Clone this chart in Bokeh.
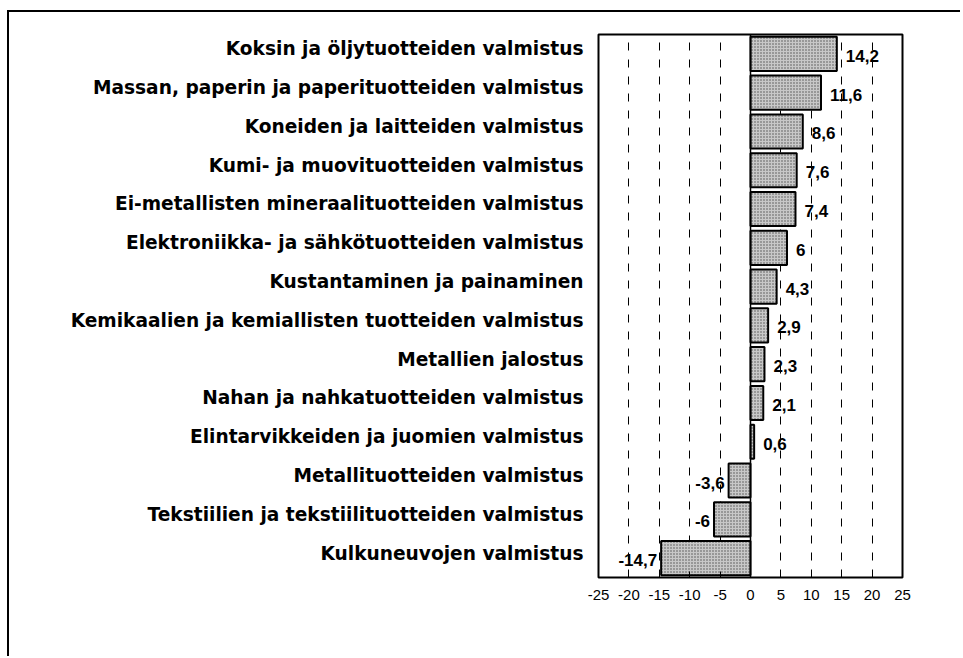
from bokeh.plotting import figure
from bokeh.models import (ColumnDataSource, Range1d, LinearAxis, FixedTicker, Span)
from bokeh.embed import file_html
from bokeh.resources import INLINE

categories = [
    "Koksin ja öljytuotteiden valmistus",
    "Massan, paperin ja paperituotteiden valmistus",
    "Koneiden ja laitteiden valmistus",
    "Kumi- ja muovituotteiden valmistus",
    "Ei-metallisten mineraalituotteiden valmistus",
    "Elektroniikka- ja sähkötuotteiden valmistus",
    "Kustantaminen ja painaminen",
    "Kemikaalien ja kemiallisten tuotteiden valmistus",
    "Metallien jalostus",
    "Nahan ja nahkatuotteiden valmistus",
    "Elintarvikkeiden ja juomien valmistus",
    "Metallituotteiden valmistus",
    "Tekstiilien ja tekstiilituotteiden valmistus",
    "Kulkuneuvojen valmistus",
]
values = [14.2, 11.6, 8.6, 7.6, 7.4, 6, 4.3, 2.9, 2.3, 2.1, 0.6, -3.6, -6, -14.7]
x_ticks = [-25, -20, -15, -10, -5, 0, 5, 10, 15, 20, 25]
x_tick_labels = ["-25", "-20", "-15", "-10", "-5", "0", "5", "10", "15", "20", "25"]

n = len(categories)
ypos = [n - 1 - i for i in range(n)]
fmt = [f"{v:g}".replace(".", ",") for v in values]

pos_src = ColumnDataSource(dict(
    y=[y for y, v in zip(ypos, values) if v >= 0],
    v=[v for v in values if v >= 0],
    t=[t for t, v in zip(fmt, values) if v >= 0]))
neg_src = ColumnDataSource(dict(
    y=[y for y, v in zip(ypos, values) if v < 0],
    v=[v for v in values if v < 0],
    t=[t for t, v in zip(fmt, values) if v < 0]))
bar_src = ColumnDataSource(dict(y=ypos, v=values))

p = figure(width=953, height=646, output_backend="svg", toolbar_location=None,
           x_range=Range1d(-25, 25), y_range=Range1d(-0.5, n - 0.5),
           y_axis_location=None,
           min_border_left=589, min_border_right=60,
           min_border_top=22, min_border_bottom=81)
p.styles = {"margin-left": "7px", "margin-top": "10px",
            "border-left": "2px solid black", "border-top": "2px solid black"}

p.outline_line_color = "black"
p.outline_line_width = 2
p.background_fill_color = "white"
p.border_fill_color = "white"

# grid
p.ygrid.visible = False
p.xgrid.ticker = FixedTicker(ticks=[t for t in x_ticks if t not in (-25, 0, 25)])
p.xgrid.grid_line_color = "black"
p.xgrid.grid_line_dash = "8 9"
p.xgrid.grid_line_width = 1

p.add_layout(Span(location=0, dimension="height", line_color="black", line_width=1.5))

p.hbar(y="y", right="v", left=0, height=0.88, source=bar_src,
       fill_color="#c8c8c8", line_color="black", line_width=2,
       hatch_pattern="dot", hatch_color="#505050", hatch_scale=3, hatch_weight=1)

p.text(x="v", y="y", text="t", source=pos_src, x_offset=9, y_offset=2,
       text_align="left", text_baseline="middle",
       text_font_size="17px", text_font_style="bold", text_color="black",
       text_font={"value": "Liberation Sans"})
p.text(x="v", y="y", text="t", source=neg_src, x_offset=-4, y_offset=2,
       text_align="right", text_baseline="middle",
       text_font_size="17px", text_font_style="bold", text_color="black",
       text_font={"value": "Liberation Sans"})

# x axis
xa = p.xaxis[0]
xa.ticker = FixedTicker(ticks=x_ticks)
xa.major_label_overrides = {t: l for t, l in zip(x_ticks, x_tick_labels)}
xa.axis_line_color = None
xa.major_tick_in = 6
xa.major_tick_out = 0
xa.major_tick_line_color = "black"
xa.minor_tick_line_color = None
xa.major_label_standoff = 12
xa.major_label_text_font = "Liberation Sans"
xa.major_label_text_font_size = "15px"
xa.major_label_text_color = "black"

# category label axis (slightly shifted up, as in the reference)
p.extra_y_ranges = {"lab": Range1d(-0.63, n - 0.63)}
ya = LinearAxis(y_range_name="lab", ticker=FixedTicker(ticks=ypos),
                major_label_overrides={y: c for y, c in zip(ypos, categories)})
ya.axis_line_color = None
ya.major_tick_line_color = None
ya.minor_tick_line_color = None
ya.major_label_standoff = 9
ya.major_label_text_font = "DejaVu Sans"
ya.major_label_text_font_style = "bold"
ya.major_label_text_font_size = "18.6px"
ya.major_label_text_color = "black"
p.add_layout(ya, "left")

open("out.html", "w").write(file_html(p, INLINE))
